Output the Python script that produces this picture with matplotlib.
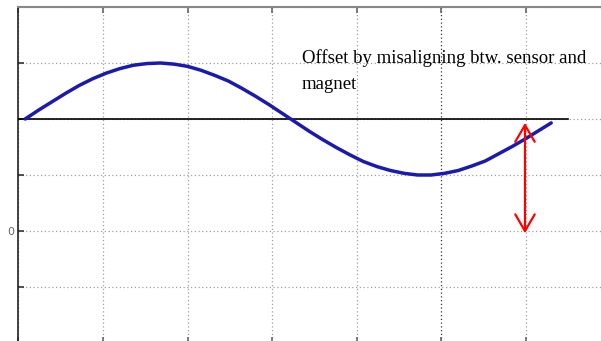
import matplotlib
matplotlib.use("Agg")
import matplotlib.pyplot as plt
from matplotlib.patches import FancyArrowPatch

# Sensor output (blue) sampled along the sweep
angle = [0.08, 0.24, 0.40, 0.56, 0.72, 0.88, 1.04, 1.20, 1.36, 1.52, 1.68, 1.84,
         2.00, 2.16, 2.32, 2.48, 2.64, 2.80, 2.96, 3.12, 3.28, 3.44, 3.60, 3.76,
         3.92, 4.08, 4.24, 4.40, 4.56, 4.72, 4.88, 5.04, 5.20, 5.36, 5.52, 5.68,
         5.84, 6.00, 6.16, 6.30]
signal = [2.00, 2.16, 2.31, 2.46, 2.60, 2.72, 2.82, 2.90, 2.96, 2.99, 3.00, 2.98,
          2.94, 2.87, 2.78, 2.68, 2.55, 2.41, 2.26, 2.10, 1.94, 1.78, 1.63, 1.49,
          1.36, 1.24, 1.15, 1.08, 1.03, 1.00, 1.00, 1.03, 1.08, 1.16, 1.25, 1.38,
          1.51, 1.65, 1.80, 1.93]

# Offset level and its span down to zero
offset_level = 2.0
offset_line_x = [0.0, 6.5]
arrow_x = 5.99
arrow_y = [-0.04, 1.93]

x_ticks = [0, 1, 2, 3, 4, 5, 6, 7]
y_ticks = [-2, -1, 0, 1, 2, 3, 4]
y_tick_labels = ["", "", "0", "", "", "", ""]
note = "Offset by misaligning btw. sensor and\nmagnet"

fig = plt.figure(figsize=(6.01, 3.41), dpi=100)
ax = fig.add_axes([18.4 / 601, -2 / 341, 592 / 601, 336 / 341])
ax.set_xlim(0, 7)
ax.set_ylim(-2, 4)

ax.set_xticks(x_ticks)
ax.set_xticklabels([])
ax.set_yticks(y_ticks)
ax.set_yticklabels(y_tick_labels, fontsize=8, color="#555555")
ax.tick_params(axis="both", direction="in", length=4, width=1.2, pad=3)
ax.tick_params(axis="x", top=True, bottom=True, colors="#666666")
ax.tick_params(axis="y", left=True, right=False, colors="#333333", labelcolor="#666666")

ax.grid(True, linestyle=(0, (1, 2)), color="#a0a0a0", linewidth=0.9)
for i, gl in enumerate(ax.get_xgridlines()):
    if x_ticks[i] == 5:
        gl.set_color("#333333")

ax.spines["left"].set_color("#222222")
ax.spines["left"].set_linewidth(1.2)
ax.spines["top"].set_color("#888888")
ax.spines["top"].set_linewidth(1.5)
ax.spines["right"].set_visible(False)
ax.spines["bottom"].set_visible(False)

ax.plot(offset_line_x, [offset_level, offset_level], color="black", linewidth=1.2, zorder=3)
ax.plot(angle, signal, color="#1a1ab0", linewidth=2.5, solid_capstyle="round",
        solid_joinstyle="round", zorder=4)

arrow = FancyArrowPatch((arrow_x, arrow_y[0]), (arrow_x, arrow_y[1]),
                        arrowstyle="<->,head_length=12,head_width=7",
                        mutation_scale=1, shrinkA=0, shrinkB=0,
                        color="red", linewidth=1.6, zorder=5)
ax.add_patch(arrow)

ax.text(3.35, 2.54, note, family="Liberation Serif", fontsize=13.5,
        color="black", ha="left", va="baseline", linespacing=1.7)

fig.savefig("out.png", dpi=100)
